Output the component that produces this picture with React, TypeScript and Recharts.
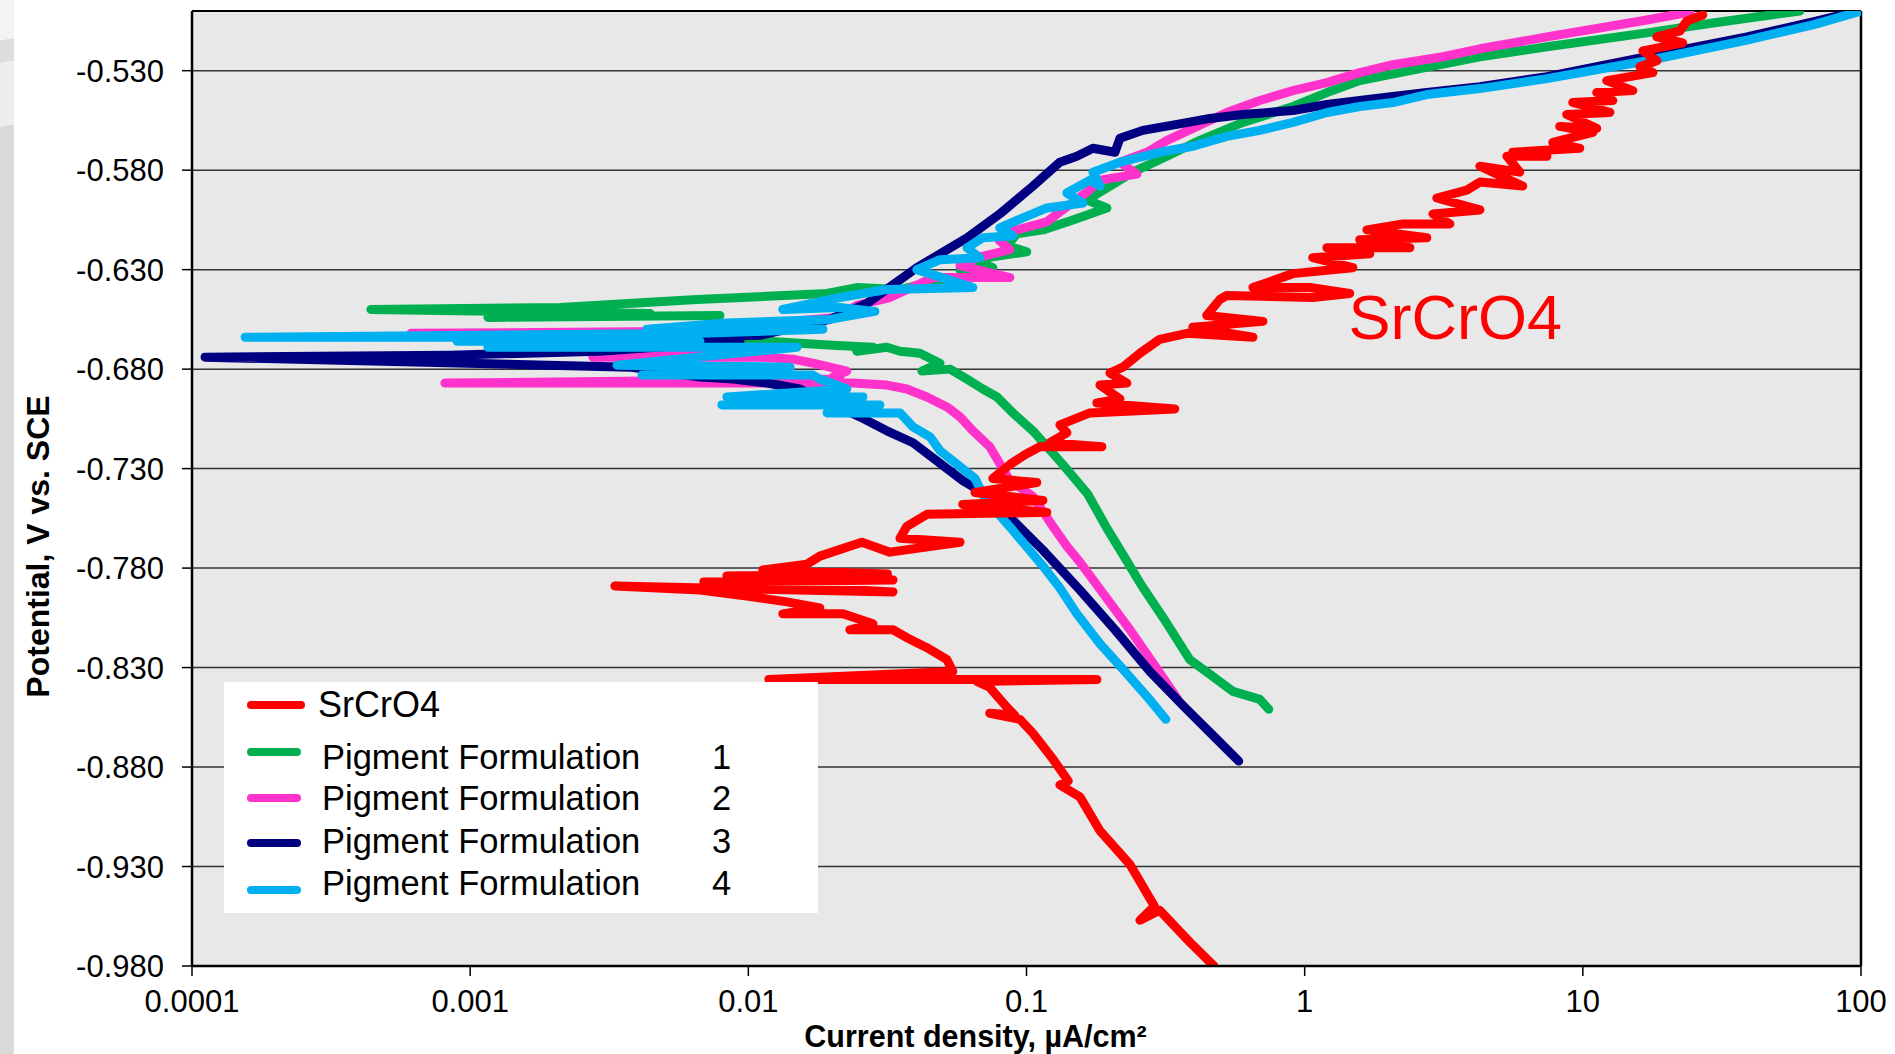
import {
  LineChart,
  Line,
  XAxis,
  YAxis,
  CartesianGrid,
  ReferenceLine,
  ReferenceDot,
  Legend,
} from "recharts";

// ── data ─────────────────────────────────────────────────────────────────
// each row: [log10 current density (µA/cm²), potential (V vs SCE)], in scan order

const X_TICKS = [0.0001, 0.001, 0.01, 0.1, 1, 10, 100];
const Y_TICKS = [-0.98, -0.93, -0.88, -0.83, -0.78, -0.73, -0.68, -0.63, -0.58, -0.53];

const SRCRO4: [number, number][] = [
  [-0.326, -0.98], [-0.413, -0.968], [-0.521, -0.952], [-0.592, -0.957], [-0.54, -0.95],
  [-0.628, -0.929], [-0.736, -0.912], [-0.808, -0.895], [-0.88, -0.889], [-0.85, -0.887],
  [-0.905, -0.876], [-0.977, -0.863], [-1.024, -0.856], [-1.132, -0.853], [-1.042, -0.854],
  [-1.07, -0.85], [-1.132, -0.84], [-1.178, -0.837], [-0.747, -0.836], [-1.926, -0.836],
  [-1.265, -0.832], [-1.286, -0.826], [-1.358, -0.82], [-1.43, -0.815], [-1.48, -0.811],
  [-1.635, -0.811], [-1.552, -0.808], [-1.66, -0.803], [-1.876, -0.803], [-1.743, -0.8],
  [-1.861, -0.797], [-2.005, -0.794], [-2.174, -0.791], [-2.48, -0.789], [-1.48, -0.792],
  [-2.16, -0.787], [-1.48, -0.786], [-2.077, -0.784], [-1.5, -0.783], [-1.948, -0.781],
  [-1.789, -0.778], [-1.743, -0.774],
  [-1.592, -0.767], [-1.491, -0.772], [-1.239, -0.767], [-1.455, -0.765], [-1.43, -0.759],
  [-1.358, -0.753], [-0.927, -0.752], [-1.229, -0.748], [-0.941, -0.746], [-1.185, -0.742],
  [-0.963, -0.737], [-1.121, -0.735], [-1.06, -0.728], [-1.006, -0.723], [-0.952, -0.719],
  [-0.729, -0.719], [-0.916, -0.717], [-0.855, -0.712], [-0.88, -0.708], [-0.772, -0.702],
  [-0.467, -0.7], [-0.747, -0.697], [-0.664, -0.695], [-0.736, -0.688], [-0.639, -0.687],
  [-0.7, -0.682], [-0.654, -0.679], [-0.592, -0.672], [-0.521, -0.665], [-0.423, -0.662],
  [-0.186, -0.664], [-0.402, -0.659], [-0.15, -0.656], [-0.352, -0.653], [-0.305, -0.645],
  [-0.28, -0.643], [0.029, -0.644], [0.162, -0.642], [0.019, -0.639], [-0.186, -0.639],
  [-0.042, -0.632], [0.173, -0.629], [0.029, -0.624], [0.234, -0.622], [0.08, -0.619],
  [0.378, -0.619], [0.198, -0.615], [0.439, -0.614], [0.224, -0.61], [0.353, -0.607],
  [0.522, -0.607], [0.461, -0.602], [0.63, -0.6], [0.475, -0.594], [0.583, -0.59],
  [0.63, -0.586], [0.784, -0.588], [0.63, -0.578], [0.773, -0.581], [0.727, -0.573],
  [0.871, -0.573], [0.748, -0.571], [0.989, -0.569], [0.892, -0.566], [1.036, -0.561],
  [0.917, -0.558], [1.05, -0.559], [0.942, -0.552], [1.097, -0.551], [0.964, -0.546],
  [1.108, -0.545], [1.05, -0.541], [1.18, -0.54], [1.086, -0.535], [1.252, -0.531],
  [1.205, -0.528], [1.266, -0.525], [1.216, -0.52], [1.359, -0.516], [1.266, -0.513],
  [1.349, -0.51], [1.374, -0.505], [1.431, -0.502],
];

const PF1: [number, number][] = [
  [-0.129, -0.851], [-0.161, -0.846], [-0.258, -0.842], [-0.344, -0.833], [-0.413, -0.826],
  [-0.499, -0.807], [-0.585, -0.789], [-0.65, -0.774], [-0.715, -0.759], [-0.779, -0.743],
  [-0.869, -0.728], [-0.977, -0.711], [-1.049, -0.702], [-1.106, -0.694], [-1.157, -0.69],
  [-1.214, -0.685], [-1.275, -0.68], [-1.376, -0.681], [-1.311, -0.677], [-1.383, -0.672],
  [-1.455, -0.671], [-1.502, -0.669], [-1.61, -0.671], [-1.552, -0.669], [-1.696, -0.668],
  [-1.815, -0.667], [-1.933, -0.666], [-2.174, -0.665], [-2.102, -0.653], [-2.936, -0.654],
  [-2.354, -0.652], [-3.357, -0.65], [-2.677, -0.649], [-2.185, -0.645], [-1.717, -0.642],
  [-1.61, -0.639], [-1.455, -0.64], [-1.336, -0.636], [-1.214, -0.636], [-1.239, -0.63],
  [-1.121, -0.629], [-1.193, -0.625], [-0.999, -0.621], [-1.07, -0.618], [-1.035, -0.612],
  [-0.941, -0.61], [-0.833, -0.605], [-0.711, -0.599], [-0.783, -0.595], [-0.7, -0.588],
  [-0.618, -0.581], [-0.495, -0.573], [-0.377, -0.565], [-0.222, -0.556], [-0.042, -0.548],
  [0.08, -0.541], [0.198, -0.535], [0.378, -0.53], [0.63, -0.523], [0.871, -0.518],
  [1.23, -0.511], [1.467, -0.506], [1.78, -0.5],
];

const PF2: [number, number][] = [
  [-0.456, -0.846], [-0.539, -0.829], [-0.628, -0.811], [-0.718, -0.794], [-0.808, -0.777],
  [-0.855, -0.769], [-0.905, -0.759], [-0.977, -0.744], [-1.06, -0.736], [-1.132, -0.719],
  [-1.193, -0.711], [-1.239, -0.704], [-1.286, -0.699], [-1.358, -0.694], [-1.43, -0.69],
  [-1.502, -0.688], [-1.624, -0.687], [-3.091, -0.687], [-1.671, -0.685], [-1.696, -0.684],
  [-1.646, -0.681], [-1.768, -0.677], [-1.84, -0.675], [-1.958, -0.674], [-2.559, -0.674],
  [-2.102, -0.671], [-2.246, -0.666], [-2.738, -0.666], [-2.365, -0.662], [-3.213, -0.662],
  [-2.174, -0.661], [-1.958, -0.659], [-1.85, -0.656], [-1.682, -0.654], [-1.61, -0.648],
  [-1.491, -0.644], [-1.336, -0.634], [-1.06, -0.634], [-1.239, -0.628], [-1.178, -0.624],
  [-1.06, -0.62], [-1.1, -0.615], [-1.06, -0.611], [-0.927, -0.606], [-0.88, -0.601],
  [-0.783, -0.591], [-0.736, -0.585], [-0.603, -0.582], [-0.664, -0.576], [-0.567, -0.571],
  [-0.495, -0.565], [-0.402, -0.559], [-0.28, -0.551], [-0.161, -0.545], [-0.042, -0.54],
  [0.08, -0.536], [0.198, -0.531], [0.317, -0.527], [0.497, -0.523], [0.63, -0.519],
  [0.871, -0.513], [1.23, -0.5045], [1.385, -0.5005],
];

const PF3: [number, number][] = [
  [-0.237, -0.877], [-0.323, -0.865], [-0.431, -0.85], [-0.556, -0.832], [-0.682, -0.811],
  [-0.808, -0.791], [-0.941, -0.771], [-1.085, -0.751], [-1.193, -0.739], [-1.229, -0.736],
  [-1.408, -0.717], [-1.502, -0.711], [-1.599, -0.704], [-1.815, -0.69], [-1.933, -0.687],
  [-2.055, -0.685], [-2.174, -0.684], [-2.426, -0.679], [-3.953, -0.674], [-3.073, -0.673],
  [-2.533, -0.671], [-2.03, -0.666], [-2.738, -0.666], [-1.958, -0.663], [-1.707, -0.655],
  [-1.574, -0.647], [-1.394, -0.629], [-1.214, -0.614], [-1.096, -0.602], [-0.977, -0.588],
  [-0.88, -0.576], [-0.819, -0.573], [-0.761, -0.569], [-0.682, -0.571], [-0.664, -0.564],
  [-0.582, -0.56], [-0.459, -0.557], [-0.341, -0.554], [-0.222, -0.552], [-0.042, -0.55],
  [0.08, -0.547], [0.198, -0.545], [0.317, -0.543], [0.439, -0.541], [0.63, -0.538],
  [0.871, -0.533], [1.23, -0.523], [1.59, -0.513], [1.827, -0.5055], [1.988, -0.5],
];

const PF4: [number, number][] = [
  [-0.499, -0.856], [-0.564, -0.845], [-0.646, -0.832], [-0.736, -0.818], [-0.819, -0.803],
  [-0.88, -0.79], [-0.941, -0.779], [-1.049, -0.761], [-1.106, -0.752], [-1.157, -0.743],
  [-1.185, -0.735], [-1.311, -0.721], [-1.347, -0.714], [-1.408, -0.709], [-1.455, -0.702],
  [-1.717, -0.702], [-1.527, -0.698], [-2.095, -0.698], [-1.588, -0.694], [-2.077, -0.694],
  [-1.646, -0.69], [-1.743, -0.685], [-1.768, -0.683], [-2.382, -0.683], [-1.85, -0.679],
  [-2.472, -0.678], [-1.825, -0.669], [-2.936, -0.669], [-2.174, -0.666], [-3.047, -0.666],
  [-2.307, -0.664], [-3.809, -0.664], [-2.174, -0.662], [-1.732, -0.66], [-2.365, -0.66],
  [-2.102, -0.657], [-1.707, -0.655], [-1.545, -0.651], [-1.671, -0.649], [-1.876, -0.65],
  [-1.671, -0.644], [-1.502, -0.64], [-1.193, -0.639], [-1.394, -0.63], [-1.311, -0.625],
  [-1.168, -0.624], [-1.214, -0.619], [-1.157, -0.614], [-1.049, -0.613], [-1.096, -0.609],
  [-1.013, -0.604], [-0.927, -0.599], [-0.797, -0.5965], [-0.855, -0.5915], [-0.772, -0.585],
  [-0.736, -0.588], [-0.761, -0.581], [-0.664, -0.576], [-0.521, -0.571], [-0.402, -0.568],
  [-0.28, -0.563], [-0.161, -0.56], [-0.042, -0.556], [0.08, -0.551], [0.198, -0.548],
  [0.317, -0.546], [0.439, -0.542], [0.63, -0.539], [0.871, -0.534], [1.23, -0.525],
  [1.59, -0.5146], [1.827, -0.507], [2.0, -0.5],
];

// where the red "SrCrO4" callout sits, in data units
const SRCRO4_NOTE = { i: 1.38, e: -0.6535 };

// ── theme ────────────────────────────────────────────────────────────────

const FONT = '"Liberation Sans", Arial, sans-serif';
const TICK_STYLE = { fill: "#000", fontSize: 31, fontFamily: FONT };
const W = 1895;
const H = 1054;

const toPoints = (rows: [number, number][]) => rows.map(([lg, e]) => ({ i: 10 ** lg, e }));

// legend order; drawing order differs (red sits on top)
const SERIES = [
  { key: "sr", label: "SrCrO4", num: "", color: "#ff0000", rows: SRCRO4 },
  { key: "pf1", label: "Pigment Formulation", num: "1", color: "#00b050", rows: PF1 },
  { key: "pf2", label: "Pigment Formulation", num: "2", color: "#ff33cc", rows: PF2 },
  { key: "pf3", label: "Pigment Formulation", num: "3", color: "#000080", rows: PF3 },
  { key: "pf4", label: "Pigment Formulation", num: "4", color: "#00b0f0", rows: PF4 },
];
const DRAW_ORDER = ["pf1", "pf2", "pf3", "pf4", "sr"];

// ── legend box ───────────────────────────────────────────────────────────

const SWATCH_Y = [23, 70, 116, 161, 208];
const TEXT_Y = [23, 75, 116, 159, 201];

function LegendBox() {
  return (
    <div
      style={{
        position: "relative",
        width: 594,
        height: 231,
        background: "#fff",
        fontFamily: FONT,
        color: "#000",
      }}
    >
      {SERIES.map((s, idx) => {
        const fs = idx === 0 ? 36 : 34.5;
        const top = TEXT_Y[idx] - 0.49 * fs;
        return (
          <div key={s.key}>
            <div
              style={{
                position: "absolute",
                left: 23,
                top: SWATCH_Y[idx] - 4,
                width: idx === 0 ? 58 : 54,
                height: 8,
                borderRadius: 4,
                background: s.color,
              }}
            />
            <span
              style={{
                position: "absolute",
                left: idx === 0 ? 94 : 98,
                top,
                fontSize: fs,
                lineHeight: `${fs}px`,
                whiteSpace: "nowrap",
              }}
            >
              {s.label}
            </span>
            {s.num && (
              <span style={{ position: "absolute", left: 488, top, fontSize: fs, lineHeight: `${fs}px` }}>
                {s.num}
              </span>
            )}
          </div>
        );
      })}
    </div>
  );
}

// ── chart ────────────────────────────────────────────────────────────────

export default function App() {
  return (
    <div style={{ position: "absolute", left: 0, top: 0, width: W, height: H, background: "#fff" }}>
      {/* grey slide edge on the far left */}
      <div
        style={{
          position: "absolute",
          left: 0,
          top: 0,
          width: 14,
          height: H,
          background:
            "linear-gradient(170deg, #f3f3f3 0px, #f3f3f3 40px, #dddddd 40px, #dddddd 62px, #eeeeee 62px, #eeeeee 125px, #d9d9d9 125px)",
        }}
      />
      <LineChart width={W} height={H} margin={{ top: 11, right: 34, bottom: 0, left: 12 }}>
        <CartesianGrid vertical={false} stroke="#333" strokeWidth={1.5} fill="#e8e8e8" />
        <XAxis
          dataKey="i"
          type="number"
          scale="log"
          domain={[0.0001, 100]}
          ticks={X_TICKS}
          allowDataOverflow
          tickFormatter={(v: number) => String(v)}
          tick={TICK_STYLE}
          tickSize={10}
          tickMargin={14}
          height={88}
          axisLine={{ stroke: "#000", strokeWidth: 2.5 }}
          tickLine={{ stroke: "#000", strokeWidth: 1.5 }}
          // eslint-disable-next-line @typescript-eslint/no-explicit-any
          label={(props: any) => {
            const vb = props.viewBox ?? { x: 192, y: 966, width: 1669, height: 88 };
            return (
              <text
                x={vb.x + vb.width / 2 - 51}
                y={vb.y + 81}
                textAnchor="middle"
                fontFamily={FONT}
                fontWeight="bold"
                fontSize={30.5}
                fill="#000"
              >
                Current density, µA/cm²
              </text>
            );
          }}
        />
        <YAxis
          type="number"
          domain={[-0.98, -0.5]}
          ticks={Y_TICKS}
          allowDataOverflow
          tickFormatter={(v: number) => v.toFixed(3)}
          tick={TICK_STYLE}
          tickSize={10}
          tickMargin={18}
          width={180}
          axisLine={{ stroke: "#000", strokeWidth: 2.5 }}
          tickLine={{ stroke: "#000", strokeWidth: 1.5 }}
          // eslint-disable-next-line @typescript-eslint/no-explicit-any
          label={(props: any) => {
            const vb = props.viewBox ?? { x: 12, y: 11, width: 180, height: 955 };
            const cx = vb.x + 37;
            const cy = vb.y + vb.height / 2 + 58;
            return (
              <text
                x={cx}
                y={cy}
                transform={`rotate(-90 ${cx} ${cy})`}
                textAnchor="middle"
                fontFamily={FONT}
                fontWeight="bold"
                fontSize={32}
                fill="#000"
              >
                Potential, V vs. SCE
              </text>
            );
          }}
        />
        <ReferenceLine y={-0.5} stroke="#000" strokeWidth={2} />
        <ReferenceLine x={100} stroke="#000" strokeWidth={2.5} />
        {DRAW_ORDER.map((k) => {
          const s = SERIES.find((x) => x.key === k)!;
          return (
            <Line
              key={s.key}
              data={toPoints(s.rows)}
              dataKey="e"
              type="linear"
              stroke={s.color}
              strokeWidth={9}
              strokeLinecap="round"
              strokeLinejoin="round"
              dot={false}
              activeDot={false}
              isAnimationActive={false}
            />
          );
        })}
        <ReferenceDot
          x={SRCRO4_NOTE.i}
          y={SRCRO4_NOTE.e}
          r={0}
          fill="none"
          stroke="none"
          label={{ value: "SrCrO4", position: "right", fill: "#ff0000", fontSize: 63, fontFamily: FONT }}
        />
        <Legend
          layout="horizontal"
          verticalAlign="middle"
          align="center"
          wrapperStyle={{ left: 224, top: 682, width: 594, height: 231 }}
          content={() => <LegendBox />}
        />
      </LineChart>
    </div>
  );
}
